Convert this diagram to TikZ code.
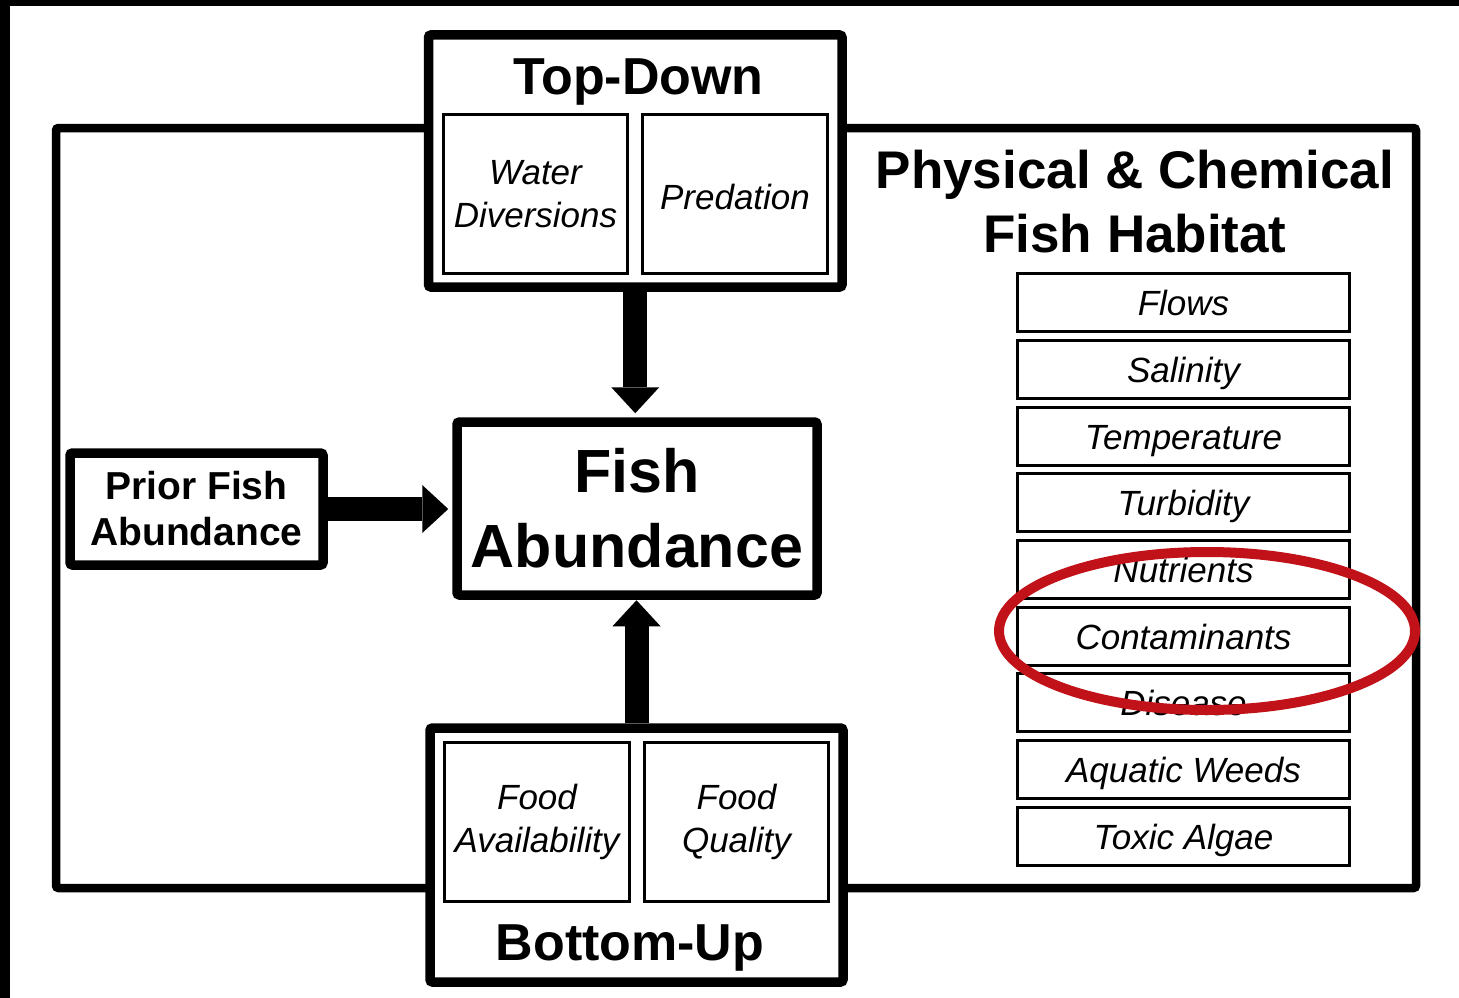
\documentclass[tikz,border=0pt]{standalone}
\usepackage{fontspec}
\setmainfont{Liberation Sans}
\usetikzlibrary{arrows.meta,shapes.geometric}
\definecolor{ringred}{RGB}{192,18,24}
\newcommand\hdfont{\fontsize{52}{62}\bfseries\selectfont}
\newcommand\fafont{\fontsize{61}{75}\bfseries\selectfont}
\newcommand\pffont{\fontsize{39}{46}\bfseries\selectfont}
\newcommand\phfont{\fontsize{53}{64}\bfseries\selectfont}
\newcommand\itfont{\fontsize{35}{43}\itshape\selectfont}
\begin{document}
\begin{tikzpicture}[x=1pt,y=-1pt,
  thickbox/.style={draw,line width=9.5pt,rounded corners=2.5pt,inner sep=0pt,fill=white},
  thinbox/.style={draw,line width=3.2pt,inner sep=0pt,align=center,font=\itfont,minimum width=185pt,minimum height=159pt},
  listbox/.style={draw,line width=3.2pt,inner sep=0pt,minimum width=332pt,minimum height=58pt,font=\itfont,text height=26pt,text depth=0pt},
  bigarrow/.style={line width=24pt,-{Triangle[length=26pt,width=48pt,line width=0pt]}}]
\useasboundingbox (0,0) rectangle (1459,998);
% outer feedback frame
\draw[line width=8.5pt,rounded corners=2.5pt] (56,128) rectangle (1416,888);
% top-down
\node[thickbox,minimum width=413.5pt,minimum height=252pt] (td) at (635.25,161) {};
\node[anchor=base,font=\hdfont] (tdl) at (638.5,94) {Top-Down};
\node[thinbox,minimum width=184pt] (wd) at (535.5,194) {Water\\Diversions};
\node[thinbox,text height=31pt,text depth=0pt] (pr) at (735,194) {Predation};
% fish abundance
\node[thickbox,minimum width=360pt,minimum height=173pt,align=center,font=\fafont] (fa) at (637,508.5) {Fish\\Abundance};
% prior
\node[thickbox,minimum width=253pt,minimum height=112pt,align=center,font=\pffont] (pf) at (196.5,509) {Prior Fish\\Abundance};
% bottom-up
\node[thickbox,minimum width=413pt,minimum height=254pt] (bu) at (636.5,855) {};
\node[anchor=base,font=\hdfont] (bul) at (630,960) {Bottom-Up};
\node[thinbox] (fav) at (537,822) {Food\\Availability};
\node[thinbox,minimum width=184pt] (fq) at (736.5,822) {Food\\Quality};
% arrows
\draw[bigarrow,shorten >=4pt] (pf.east) -- (pf.east -| fa.west);
\draw[bigarrow,shorten >=4pt] (td.south) -- (td.south |- fa.north);
\draw[bigarrow,shorten >=0.5pt] (bu.north) -- (bu.north |- fa.south);
% habitat
\node[align=center,font=\phfont] (ph) at (1135,202) {Physical \& Chemical\\Fish Habitat};
\node[listbox] (l1) at (1183.5,302.8) {Flows};
\node[listbox] (l2) at (1183.5,369.5) {Salinity};
\node[listbox] (l3) at (1183.5,436.2) {Temperature};
\node[listbox] (l4) at (1183.5,502.8) {Turbidity};
\node[listbox] (l5) at (1183.5,569.5) {Nutrients};
\node[listbox] (l6) at (1183.5,636.2) {Contaminants};
\node[listbox] (l7) at (1183.5,702.8) {Disease};
\node[listbox] (l8) at (1183.5,769.5) {Aquatic Weeds};
\node[listbox] (l9) at (1183.5,836.2) {Toxic Algae};
% red ring
\node[ellipse,draw=ringred,line width=10pt,inner sep=0pt,minimum width=416pt,minimum height=158pt] (ring) at (1207,631) {};
% black scan edges
\fill[black] (0,0) rectangle (1459,6.5);
\fill[black] (0,0) rectangle (10,998);
\end{tikzpicture}
\end{document}
